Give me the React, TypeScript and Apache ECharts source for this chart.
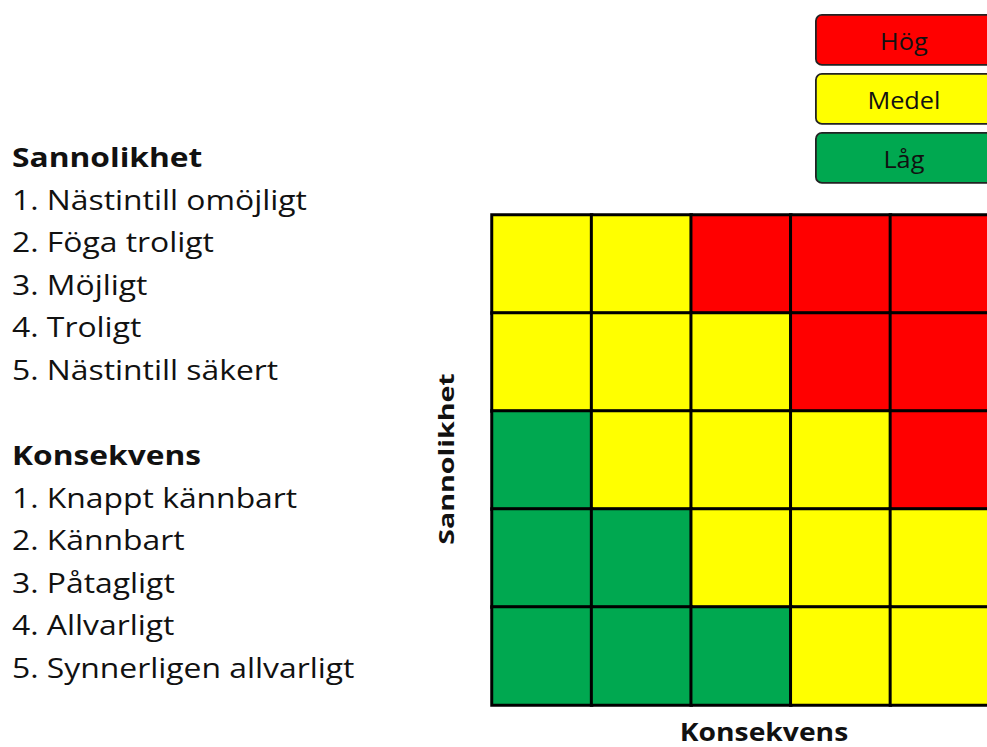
import React, { useEffect, useRef } from "react";
import * as echarts from "echarts";

const konsekvensCategories = ["1", "2", "3", "4", "5"];
const sannolikhetCategories = ["1", "2", "3", "4", "5"];
// rows from sannolikhet 5 (top) to 1 (bottom); values: 1=Låg, 2=Medel, 3=Hög
const riskRows = [
  [2, 2, 3, 3, 3],
  [2, 2, 2, 3, 3],
  [1, 2, 2, 2, 3],
  [1, 1, 2, 2, 2],
  [1, 1, 1, 2, 2],
];
const levelNames = ["Hög", "Medel", "Låg"];
const levelColors = ["#FF0000", "#FFFF00", "#00A850"];
const sannolikhetTitle = "Sannolikhet";
const sannolikhetItems = [
  "1. Nästintill omöjligt",
  "2. Föga troligt",
  "3. Möjligt",
  "4. Troligt",
  "5. Nästintill säkert",
];
const konsekvensTitle = "Konsekvens";
const konsekvensItems = [
  "1. Knappt kännbart",
  "2. Kännbart",
  "3. Påtagligt",
  "4. Allvarligt",
  "5. Synnerligen allvarligt",
];

const FONT = "'Open Sans', sans-serif";

export default function App() {
  const ref = useRef<HTMLDivElement>(null);
  useEffect(() => {
    if (!ref.current) return;
    const chart = echarts.init(ref.current, null, { renderer: "svg" });
    const data: number[][] = [];
    riskRows.forEach((row, ri) => {
      const y = sannolikhetCategories.length - 1 - ri;
      row.forEach((v, xi) => data.push([xi, y, v]));
    });
    const graphics: any[] = [];
    const legendTops = [14, 73, 132];
    levelNames.forEach((n, i) => {
      graphics.push({
        type: "group",
        left: 815,
        top: legendTops[i],
        children: [
          {
            type: "rect",
            shape: { x: 0, y: 0, width: 178, height: 50, r: 6 },
            style: { fill: levelColors[i], stroke: "#222", lineWidth: 1.8 },
          },
          {
            type: "text",
            x: 88,
            y: 26,
            scaleX: 1.1,
            style: {
              text: n,
              fill: "#111",
              font: `23px ${FONT}`,
              textAlign: "center",
              textVerticalAlign: "middle",
            },
          },
        ],
      });
    });
    const lineH = 42.4;
    const addBlock = (title: string, items: string[], y0: number) => {
      graphics.push({
        type: "text",
        x: 12,
        y: y0,
        scaleX: 1.22,
        style: {
          text: title,
          fill: "#111",
          font: `bold 26px ${FONT}`,
          textVerticalAlign: "middle",
        },
      });
      items.forEach((t, i) => {
        graphics.push({
          type: "text",
          x: 12,
          y: y0 + lineH * (i + 1),
          scaleX: 1.18,
          style: {
            text: t,
            fill: "#111",
            font: `27px ${FONT}`,
            textVerticalAlign: "middle",
          },
        });
      });
    };
    addBlock(sannolikhetTitle, sannolikhetItems, 157);
    addBlock(konsekvensTitle, konsekvensItems, 455);
    // axis titles
    graphics.push({
      type: "text",
      x: 445,
      y: 459,
      rotation: Math.PI / 2,
      scaleX: 1.3,
      style: {
        text: sannolikhetTitle,
        fill: "#111",
        font: `bold 22px ${FONT}`,
        textAlign: "center",
        textVerticalAlign: "middle",
      },
    });
    graphics.push({
      type: "text",
      x: 764,
      y: 731,
      scaleX: 1.13,
      style: {
        text: konsekvensTitle,
        fill: "#111",
        font: `bold 25px ${FONT}`,
        lineHeight: 25,
        textAlign: "center",
        textVerticalAlign: "middle",
      },
    });

    chart.setOption({
      animation: false,
      grid: { left: 492, top: 215, right: -3, bottom: 42, outerBoundsMode: "none", containLabel: false },
      xAxis: {
        type: "category",
        data: konsekvensCategories,
        axisLabel: { show: false },
        axisTick: { show: false },
        axisLine: { show: false },
        splitArea: { show: false },
      },
      yAxis: {
        type: "category",
        data: sannolikhetCategories,
        axisLabel: { show: false },
        axisTick: { show: false },
        axisLine: { show: false },
      },
      visualMap: {
        show: false,
        type: "piecewise",
        dimension: 2,
        pieces: [
          { value: 3, color: levelColors[0] },
          { value: 2, color: levelColors[1] },
          { value: 1, color: levelColors[2] },
        ],
      },
      graphic: graphics,
      series: [
        {
          type: "heatmap",
          data,
          itemStyle: { borderColor: "#000", borderWidth: 3 },
          label: { show: false },
          emphasis: { disabled: true },
        },
      ],
    });
    return () => chart.dispose();
  }, []);
  return (
    <div
      ref={ref}
      style={{ position: "absolute", left: 0, top: 0, width: 987, height: 747, overflow: "hidden" }}
    />
  );
}
